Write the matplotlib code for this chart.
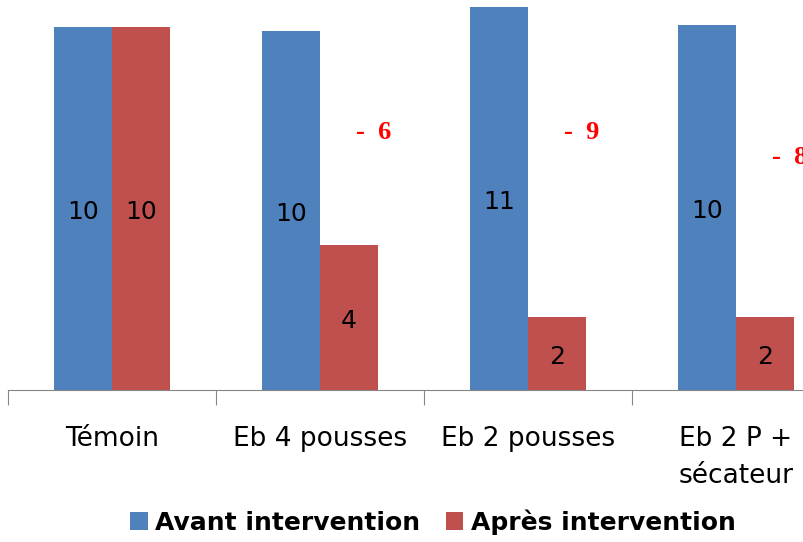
import numpy as np
import matplotlib
matplotlib.use("Agg")
import matplotlib.pyplot as plt

categories = ["Témoin", "Eb 4 pousses", "Eb 2 pousses", "Eb 2 P +\nsécateur"]
avant = [10.0, 9.9, 10.55, 10.05]
apres = [10.0, 4.0, 2.0, 2.0]
series_names = ["Avant intervention", "Après intervention"]
colors = ["#4F81BD", "#C0504D"]

# heights of the red difference labels (data units)
diff_label_y = [7.1, 7.1, 6.4]

fig = plt.figure(figsize=(8.04, 5.42), dpi=100)
# plot area runs past the right edge, as in the original screenshot
ax = fig.add_axes([8 / 804, 152 / 542, 832 / 804, 11 * 36.3 / 542])

x = np.arange(len(categories))
w = 0.28
b1 = ax.bar(x - w / 2, avant, w, color=colors[0], label=series_names[0])
b2 = ax.bar(x + w / 2, apres, w, color=colors[1], label=series_names[1])

for bars, vals in ((b1, avant), (b2, apres)):
    for rect, v in zip(bars, vals):
        ax.text(rect.get_x() + rect.get_width() / 2, v / 2 - 0.1, f"{v:.0f}",
                ha="center", va="center", fontsize=18, color="black")

# differences after / before
for i in range(1, len(categories)):
    d = apres[i] - avant[i]
    ax.text(x[i] + 0.26, diff_label_y[i - 1], f"-  {abs(d):.0f}",
            ha="center", va="center", fontsize=19, fontweight="bold",
            color="red", family="Liberation Serif")

ax.set_xlim(-0.5, 3.5)
ax.set_ylim(0, 11)
ax.set_yticks([])
for s in ["top", "right", "left"]:
    ax.spines[s].set_visible(False)
ax.spines["bottom"].set_color("#868686")

ax.set_xticks(np.arange(-0.5, 4.0, 1.0))
ax.set_xticklabels([])
ax.tick_params(axis="x", length=11, color="#868686", direction="out")
for i, c in enumerate(categories):
    ax.text(x[i], -0.98, c, ha="center", va="top", fontsize=19,
            clip_on=False, linespacing=1.55)

fig.legend(handles=[b1, b2], labels=series_names, loc="center",
           bbox_to_anchor=(433 / 804, 1 - 522 / 542), ncol=2, frameon=False,
           prop={"weight": "bold", "size": 18}, handlelength=0.7,
           handleheight=0.7, handletextpad=0.3, columnspacing=1.0)

fig.savefig("out.png", dpi=100)
